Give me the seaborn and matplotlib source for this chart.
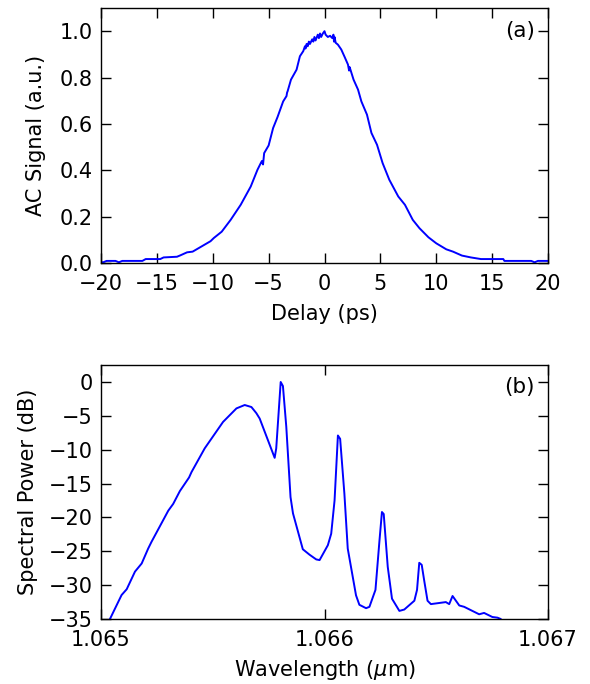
import numpy as np
import pandas as pd
import matplotlib
matplotlib.use("Agg")
import matplotlib.pyplot as plt
import seaborn as sns

# (a) autocorrelation trace
delay_ps = [-20.0, -19.8, -19.5, -18.7, -18.4, -18.1, -16.3, -16.0, -14.7, -14.4, -13.2, -12.9,
            -12.3, -11.8, -10.2, -9.9, -9.2, -8.4, -7.5, -6.6, -6.0, -5.7, -5.6, -5.5, -5.4, -5.0,
            -4.6, -4.2, -3.7, -3.4, -3.35, -3.3, -3.0, -2.5, -2.2, -1.9, -1.75, -1.7, -1.6, -1.5,
            -1.4, -1.3, -1.1, -1.0, -0.9, -0.8, -0.6, -0.5, -0.4, -0.3, -0.15, 0.0, 0.1, 0.3,
            0.5, 0.7, 0.8, 0.85, 0.9, 1.0, 1.2, 1.5, 1.8, 2.1, 2.2, 2.25, 2.6, 3.0, 3.3, 3.8,
            4.2, 4.7, 5.2, 5.8, 6.6, 7.2, 7.9, 8.5, 9.3, 10.0, 10.9, 11.5, 12.3, 13.1, 14.0,
            16.0, 16.1, 18.5, 18.8, 19.1, 20.0]
ac_signal = [0.004, 0.003, 0.009, 0.009, 0.003, 0.009, 0.009, 0.017, 0.017, 0.024, 0.027, 0.033,
             0.046, 0.049, 0.094, 0.108, 0.135, 0.186, 0.251, 0.330, 0.402, 0.431, 0.44, 0.425,
             0.474, 0.507, 0.582, 0.630, 0.697, 0.72, 0.735, 0.741, 0.791, 0.834, 0.892, 0.914,
             0.935, 0.925, 0.945, 0.935, 0.955, 0.945, 0.965, 0.955, 0.975, 0.96, 0.985, 0.97,
             0.99, 0.975, 0.99, 1.0, 0.985, 0.975, 0.98, 0.97, 0.985, 0.955, 0.975, 0.95, 0.942,
             0.921, 0.889, 0.856, 0.83, 0.845, 0.791, 0.748, 0.697, 0.640, 0.561, 0.510, 0.431,
             0.359, 0.287, 0.251, 0.186, 0.150, 0.111, 0.085, 0.059, 0.049, 0.032, 0.024, 0.017,
             0.017, 0.009, 0.009, 0.003, 0.009, 0.009]

# (b) optical spectrum
wavelength_um = [1.06504, 1.065092, 1.065115, 1.065152, 1.065182, 1.065211, 1.065226, 1.065301,
                 1.065323, 1.065353, 1.065394, 1.065405, 1.065464, 1.065546, 1.065606, 1.065643,
                 1.065673, 1.065695, 1.065710, 1.065777, 1.065784, 1.065804, 1.065814, 1.065829,
                 1.065848, 1.065859, 1.065903, 1.065933, 1.065963, 1.065978, 1.066015, 1.066030,
                 1.066045, 1.066060, 1.066070, 1.066089, 1.066104, 1.066141, 1.066156, 1.066186,
                 1.066201, 1.066228, 1.066246, 1.066257, 1.066265, 1.066283, 1.066302, 1.066335,
                 1.066357, 1.066402, 1.066414, 1.066424, 1.066435, 1.066446, 1.066461, 1.066476,
                 1.066543, 1.066558, 1.066573, 1.066603, 1.066625, 1.066692, 1.066714, 1.066751,
                 1.066774, 1.066789]
power_db = [-35.0, -31.46, -30.6, -28.0, -26.8, -24.6, -23.6, -19.0, -18.0, -16.1, -14.1, -13.3,
            -9.8, -5.9, -3.9, -3.4, -3.7, -4.6, -5.4, -11.2, -9.8, 0.0, -0.6, -6.6, -17.0, -19.4,
            -24.7, -25.5, -26.2, -26.3, -24.1, -22.4, -17.5, -7.9, -8.4, -16.5, -24.6, -31.5,
            -32.9, -33.4, -33.2, -30.7, -23.4, -19.2, -19.5, -27.3, -32.0, -33.8, -33.6, -32.3,
            -30.7, -26.7, -27.0, -29.3, -32.3, -32.8, -32.5, -32.8, -31.6, -33.0, -33.2, -34.3,
            -34.1, -34.7, -34.8, -35.0]

sns.set_theme(style="white")
plt.rcParams['font.family'] = ['DejaVu Sans']
plt.rcParams['mathtext.fontset'] = 'dejavusans'
for k in ['text.color', 'axes.labelcolor', 'xtick.color', 'ytick.color']:
    plt.rcParams[k] = 'black'

fig = plt.figure(figsize=(5.9, 6.84), dpi=100)
ax1 = fig.add_axes([0.1712, 0.6155, 0.7576, 0.3728])
ax2 = fig.add_axes([0.1712, 0.0950, 0.7576, 0.3713])

df_a = pd.DataFrame({"delay": delay_ps, "ac": ac_signal})
df_b = pd.DataFrame({"wl": wavelength_um, "p": power_db})

sns.lineplot(data=df_a, x="delay", y="ac", ax=ax1, color="#0000ff", lw=1.4,
             estimator=None, sort=False)
sns.lineplot(data=df_b, x="wl", y="p", ax=ax2, color="#0000ff", lw=1.4,
             estimator=None, sort=False)

fs = 15
ax1.set_xlim(-20, 20)
ax1.set_ylim(0, 1.1)
ax1.set_xticks([-20, -15, -10, -5, 0, 5, 10, 15, 20])
ax1.set_yticks([0.0, 0.2, 0.4, 0.6, 0.8, 1.0])
ax1.set_yticklabels(["0.0", "0.2", "0.4", "0.6", "0.8", "1.0"])
ax1.set_xlabel("Delay (ps)", fontsize=fs, labelpad=7)
ax1.set_ylabel("AC Signal (a.u.)", fontsize=fs, labelpad=10)
ax1.text(0.97, 0.91, "(a)", transform=ax1.transAxes, ha="right", va="center", fontsize=15.5)

ax2.set_xlim(1.065, 1.067)
ax2.set_ylim(-35, 2.5)
ax2.set_xticks([1.065, 1.066, 1.067])
ax2.set_xticklabels(["1.065", "1.066", "1.067"])
ax2.set_yticks([0, -5, -10, -15, -20, -25, -30, -35])
ax2.set_xlabel(r"Wavelength ($\mu$m)", fontsize=fs, labelpad=6)
ax2.set_ylabel("Spectral Power (dB)", fontsize=fs, labelpad=8)
ax2.text(0.97, 0.913, "(b)", transform=ax2.transAxes, ha="right", va="center", fontsize=15.5)

for ax in (ax1, ax2):
    ax.tick_params(direction="in", length=7, width=1, color="black", labelsize=fs,
                   top=True, right=True, bottom=True, left=True)
    ax.tick_params(axis="x", pad=8)
    ax.tick_params(axis="y", pad=6)
    for s in ax.spines.values():
        s.set_visible(True)
        s.set_color("black")
        s.set_linewidth(1.0)
    ax.grid(False)

fig.savefig("out.png", dpi=100)
